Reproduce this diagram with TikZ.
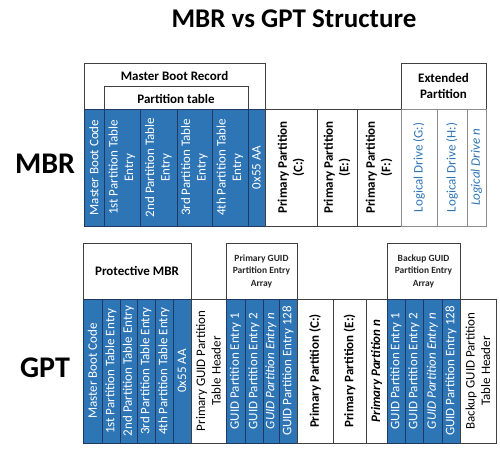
\documentclass[tikz,border=0pt]{standalone}
\usepackage{fontspec}
\setmainfont{Carlito}
\usepackage{tikz}
\usetikzlibrary{positioning}

\definecolor{gptblue}{HTML}{2E75B6}
\definecolor{gptnavy}{HTML}{1F3864}

\begin{document}
\begin{tikzpicture}[
  x=1pt, y=-1pt,
  font=\fontsize{13}{15.5}\selectfont,
  cell/.style={draw, rotate=90, align=center, inner sep=0pt, outer sep=0pt},
  bcol/.style={cell, fill=gptblue, draw=gptnavy, text=white},
  wcol/.style={cell, fill=white, draw=black!75, font=\fontsize{13}{15.5}\selectfont\bfseries},
  lcol/.style={cell, fill=white, draw=black!45, text=gptblue},
  mbrrow/.style={minimum width=117pt},
  gptrow/.style={minimum width=144pt},
  hdrbox/.style={draw=black!75, fill=white, inner sep=0pt, outer sep=0pt},
  hdrtxt/.style={font=\fontsize{13}{16}\selectfont\bfseries, align=center},
  small/.style={font=\fontsize{9.5}{12.5}\selectfont\bfseries, align=center, text=black!85}
]
\useasboundingbox (0,0) rectangle (500,448);

% title and row names
\node[font=\fontsize{27}{30}\selectfont\bfseries] (title) at (294,19) {MBR vs GPT Structure};
\node[font=\fontsize{30}{34}\selectfont\bfseries] (mbrname) at (45,164) {MBR};
\node[font=\fontsize{30}{34}\selectfont\bfseries] (gptname) at (45,368) {GPT};

% MBR headers
\node[hdrbox, minimum width=181pt, minimum height=46pt] (mbrhdr) at (174.5,86) {};
\node[hdrtxt] (mbrlbl) at (174.5,76) {Master Boot Record};
\node[hdrbox, minimum width=144pt, minimum height=23pt] (pthdr) at (176,97.5) {};
\node[hdrtxt] (ptlbl) at (176,99) {Partition table};
\node[hdrbox, hdrtxt, minimum width=85pt, minimum height=46pt] (exthdr) at (443.5,86) {Extended\\Partition};

% MBR row
\node[bcol, mbrrow, minimum height=20pt] (mbc) at (94,167.5) {Master Boot Code};
\node[bcol, mbrrow, minimum height=36pt] (pte1) at (122,167.5) {1st Partition Table\\Entry};
\node[bcol, mbrrow, minimum height=37pt] (pte2) at (158.5,167.5) {2nd Partition Table\\Entry};
\node[bcol, mbrrow, minimum height=35pt] (pte3) at (194.5,167.5) {3rd Partition Table\\Entry};
\node[bcol, mbrrow, minimum height=36pt] (pte4) at (230,167.5) {4th Partition Table\\Entry};
\node[bcol, mbrrow, minimum height=17pt] (sig) at (256.5,167.5) {0x55 AA};
\node[wcol, mbrrow, minimum height=52pt] (ppc) at (291,167.5) {Primary Partition\\(C:)};
\node[wcol, mbrrow, minimum height=40pt] (ppe) at (337,167.5) {Primary Partition\\(E:)};
\node[wcol, mbrrow, minimum height=44pt] (ppf) at (379,167.5) {Primary Partition\\(F:)};
\node[lcol, mbrrow, minimum height=36pt] (ldg) at (419,167.5) {Logical Drive (G:)};
\node[lcol, mbrrow, minimum height=30pt] (ldh) at (452,167.5) {Logical Drive (H:)};
\node[lcol, mbrrow, minimum height=19pt] (ldn) at (476.5,167.5) {\itshape Logical Drive n};

% GPT headers
\node[hdrbox, hdrtxt, minimum width=108pt, minimum height=56pt] (pmbrhdr) at (137,271) {Protective MBR};
\node[hdrbox, small, minimum width=71pt, minimum height=56pt] (parrhdr) at (261.5,271) {Primary GUID\\Partition Entry\\Array};
\node[hdrbox, small, minimum width=73pt, minimum height=56pt] (barrhdr) at (423.5,271) {Backup GUID\\Partition Entry\\Array};

% GPT row
\node[bcol, gptrow, minimum height=19pt] (gmbc) at (92.5,371) {Master Boot Code};
\node[bcol, gptrow, minimum height=18pt] (gpte1) at (111,371) {1st Partition Table Entry};
\node[bcol, gptrow, minimum height=17pt] (gpte2) at (128.5,371) {2nd Partition Table Entry};
\node[bcol, gptrow, minimum height=18pt] (gpte3) at (146,371) {3rd Partition Table Entry};
\node[bcol, gptrow, minimum height=18pt] (gpte4) at (164,371) {4th Partition Table Entry};
\node[bcol, gptrow, minimum height=18pt] (gsig) at (182,371) {0x55 AA};
\node[cell, gptrow, draw=black!75, minimum height=35pt] (phdr) at (208.5,371) {Primary GUID Partition\\Table Header};
\node[bcol, gptrow, minimum height=19pt] (pg1) at (235.5,371) {GUID Partition Entry 1};
\node[bcol, gptrow, minimum height=18pt] (pg2) at (254,371) {GUID Partition Entry 2};
\node[bcol, gptrow, minimum height=16pt] (pgn) at (271,371) {\itshape GUID Partition Entry n};
\node[bcol, gptrow, minimum height=18pt] (pg128) at (288,371) {GUID Partition Entry 128};
\node[wcol, gptrow, minimum height=36pt] (gppc) at (315,371) {Primary Partition (C:)};
\node[wcol, gptrow, minimum height=33pt] (gppe) at (349.5,371) {Primary Partition (E:)};
\node[wcol, gptrow, minimum height=21pt] (gppn) at (376.5,371) {\itshape Primary Partition n};
\node[bcol, gptrow, minimum height=18pt] (bg1) at (396,371) {GUID Partition Entry 1};
\node[bcol, gptrow, minimum height=18pt] (bg2) at (414,371) {GUID Partition Entry 2};
\node[bcol, gptrow, minimum height=19pt] (bgn) at (432.5,371) {\itshape GUID Partition Entry n};
\node[bcol, gptrow, minimum height=18pt] (bg128) at (451,371) {GUID Partition Entry 128};
\node[cell, gptrow, draw=black!75, minimum height=36pt] (bhdr) at (478,371) {Backup GUID Partition\\Table Header};
\end{tikzpicture}
\end{document}
